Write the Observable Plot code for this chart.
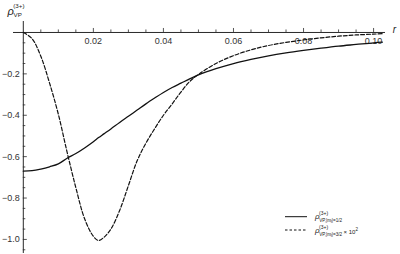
<!DOCTYPE html>
<html><head><meta charset="utf-8">
<script src="https://cdn.jsdelivr.net/npm/d3@7"></script>
<script src="https://cdn.jsdelivr.net/npm/@observablehq/plot@0.6"></script>
<style>
html,body{margin:0;padding:0;background:#fff;}
#wrap{position:relative;width:400px;height:254px;font-family:"Liberation Sans",Arial,sans-serif;}
#legend{position:absolute;left:280px;top:205px;}
</style></head><body><div id="wrap"></div>
<script>
// radius r
const rVals = [0,0.0025,0.005,0.0075,0.01,0.0125,0.015,0.0175,0.02,0.0215,0.023,0.025,0.0275,0.03,0.0325,0.035,0.0375,0.04,0.0425,0.045,0.0475,0.05,0.055,0.06,0.065,0.07,0.075,0.08,0.085,0.09,0.095,0.1,0.1025];
// rho_VP,|mj|=1/2 (solid)
const solidVals = [-0.670,-0.668,-0.660,-0.649,-0.635,-0.608,-0.585,-0.558,-0.528,-0.508,-0.490,-0.466,-0.435,-0.405,-0.375,-0.345,-0.317,-0.290,-0.266,-0.245,-0.224,-0.205,-0.175,-0.150,-0.130,-0.113,-0.099,-0.087,-0.076,-0.066,-0.058,-0.050,-0.047];
// rho_VP,|mj|=3/2 x 10^2 (dashed)
const dashedVals = [0,-0.030,-0.115,-0.245,-0.395,-0.578,-0.750,-0.900,-0.985,-1.005,-0.990,-0.950,-0.860,-0.740,-0.620,-0.535,-0.465,-0.400,-0.345,-0.288,-0.237,-0.203,-0.150,-0.112,-0.084,-0.063,-0.048,-0.036,-0.026,-0.018,-0.012,-0.008,-0.006];

const xMajor = [0.02,0.04,0.06,0.08,0.10];
const xMinor = [0.005,0.01,0.015,0.025,0.03,0.035,0.045,0.05,0.055,0.065,0.07,0.075,0.085,0.09,0.095];
const yMajor = [-0.2,-0.4,-0.6,-0.8,-1.0];
const yMinor = [-0.05,-0.1,-0.15,-0.25,-0.3,-0.35,-0.45,-0.5,-0.55,-0.65,-0.7,-0.75,-0.85,-0.9,-0.95,-1.05];
const xDomain = [-0.0028, 0.1034];
const yDomain = [-1.068, 0.053];

const data = rVals.map((r, i) => ({r, solid: solidVals[i], dashed: dashedVals[i]}));
const axisColor = "#2a2a2a";
const labelColor = "#333";

const svg = Plot.plot({
  width: 400, height: 254,
  marginLeft: 13, marginRight: 15, marginTop: 21, marginBottom: 1,
  style: {fontFamily: "'Liberation Sans', Arial, sans-serif", background: "transparent"},
  x: {domain: xDomain, axis: null},
  y: {domain: yDomain, axis: null},
  marks: [
    Plot.ruleY([0], {stroke: axisColor, strokeWidth: 1}),
    Plot.ruleX([0], {stroke: axisColor, strokeWidth: 1}),
    Plot.ruleX(xMinor, {x: d => d, y1: 0, y2: 0, insetTop: -2.5, stroke: axisColor, strokeWidth: 0.8}),
    Plot.ruleX(xMajor, {x: d => d, y1: 0, y2: 0, insetTop: -4, stroke: axisColor, strokeWidth: 0.8}),
    Plot.ruleY(yMinor, {y: d => d, x1: 0, x2: 0, insetRight: -2.5, stroke: axisColor, strokeWidth: 0.8}),
    Plot.ruleY(yMajor, {y: d => d, x1: 0, x2: 0, insetRight: -4, stroke: axisColor, strokeWidth: 0.8}),
    Plot.text(xMajor, {x: d => d, y: 0, text: d => d.toFixed(2), dy: 8.5, fontSize: 9, fill: labelColor}),
    Plot.text(yMajor, {x: 0, y: d => d, text: d => d.toFixed(1).replace("-", "\u2212"), textAnchor: "end", dx: -3.5, fontSize: 9, fill: labelColor}),
    Plot.line(data, {x: "r", y: "solid", stroke: "#111", strokeWidth: 1.3, curve: "catmull-rom"}),
    Plot.line(data, {x: "r", y: "dashed", stroke: "#111", strokeWidth: 1.2, strokeDasharray: "3.8,2", curve: "catmull-rom"}),
    Plot.text(["r"], {x: xDomain[1], y: 0, dx: 9, dy: -2.5, fontSize: 10, fontStyle: "italic", fill: "#222"}),
    Plot.text(["YLABEL"], {frameAnchor: "top-left", dx: -6, dy: -6.5, lineAnchor: "bottom", textAnchor: "start", fontSize: 11, fill: "#222"})
  ]
});

// rebuild y axis label with sub/superscripts
d3.select(svg).selectAll("text").filter(function() { return this.textContent === "YLABEL"; }).each(function() {
  const t = d3.select(this);
  t.text(null);
  t.append("tspan").attr("font-style", "italic").text("\u03C1");
  t.append("tspan").attr("font-size", 6.2).attr("dy", -7).attr("dx", -0.5).text("(3+)");
  t.append("tspan").attr("font-size", 6.2).attr("dx", -11).attr("dy", 9).text("VP");
});

const wrap = document.getElementById("wrap");
wrap.appendChild(svg);
svg.style.position = "absolute"; svg.style.left = "0"; svg.style.top = "0";

const legend = document.createElementNS("http://www.w3.org/2000/svg", "svg");
legend.setAttribute("id", "legend");
legend.setAttribute("width", 120);
legend.setAttribute("height", 40);
legend.innerHTML = `
<g font-family="'Liberation Sans', Arial, sans-serif" fill="#222">
<line x1="5" x2="27" y1="11.7" y2="11.7" stroke="#111" stroke-width="1"/>
<line x1="5" x2="27" y1="25" y2="25" stroke="#111" stroke-width="1" stroke-dasharray="2.5,2"/>
<text x="35" y="14" font-size="8"><tspan font-style="italic">\u03C1</tspan><tspan font-size="5" dy="-4.5" dx="-0.5">(3+)</tspan><tspan font-size="4.6" dx="-9" dy="7">VP,|m</tspan><tspan font-size="3.5" dy="0.8">j</tspan><tspan font-size="4.6" dy="-0.8">|=1/2</tspan></text>
<text x="35" y="28" font-size="8"><tspan font-style="italic">\u03C1</tspan><tspan font-size="5" dy="-4.5" dx="-0.5">(3+)</tspan><tspan font-size="4.6" dx="-9" dy="7">VP,|m</tspan><tspan font-size="3.5" dy="0.8">j</tspan><tspan font-size="4.6" dy="-0.8">|=3/2</tspan><tspan font-size="6" dx="1.5" dy="-2">\u00D7 10</tspan><tspan font-size="4.5" dy="-2.5">2</tspan></text>
</g>`;
wrap.appendChild(legend);
</script></body></html>
